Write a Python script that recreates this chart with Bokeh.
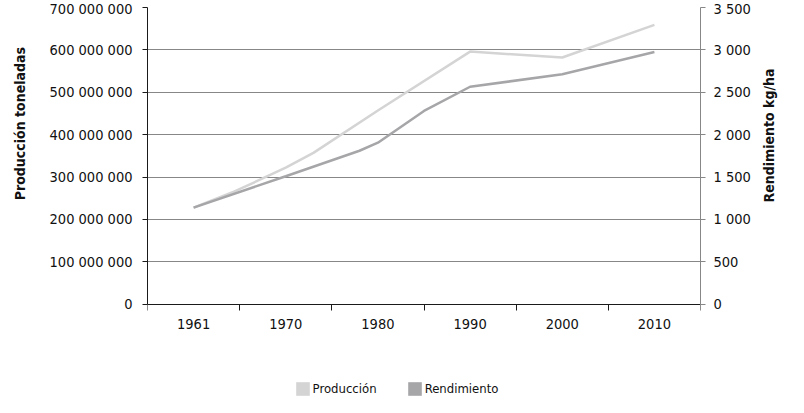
import math
import numpy as np
from bokeh.plotting import figure
from bokeh.models import (Range1d, LinearAxis, FixedTicker, Legend, LegendItem, Grid)
from bokeh.embed import file_html
from bokeh.resources import INLINE

# ---- data ----
categories = ["1961", "1970", "1980", "1990", "2000", "2010"]

prod_years = [1961, 1965, 1970, 1973, 1980, 1990, 2000, 2010]
prod_values = [228_000_000, 266_000_000, 322_000_000, 357_000_000, 457_000_000,
               596_000_000, 582_000_000, 659_000_000]

rend_years = [1961, 1970, 1978, 1980, 1985, 1990, 2000, 2010]
rend_values = [1140, 1510, 1810, 1905, 2280, 2565, 2712, 2975]

left_ticks = [0, 100_000_000, 200_000_000, 300_000_000, 400_000_000,
              500_000_000, 600_000_000, 700_000_000]
right_ticks = [0, 500, 1000, 1500, 2000, 2500, 3000, 3500]

series_names = ["Producción", "Rendimiento"]
series_colors = ["#d4d4d4", "#a6a6a9"]
left_title = "Producción toneladas"
right_title = "Rendimiento kg/ha"

# ---- geometry (figure pixels) ----
W, H = 788, 397
FRAME_TOP = 7          # top of the value area
ZERO_Y = 303.7         # where value 0 (the category axis) sits
FRAME_BOTTOM = H       # frame extends to the bottom so the legend is not clipped
below_frac = (FRAME_BOTTOM - ZERO_Y) / (ZERO_Y - FRAME_TOP)

# ---- helpers ----
cat_years = [int(c) for c in categories]
centers = [i + 0.5 for i in range(len(categories))]
bounds = list(range(len(categories) + 1))
NB = "\u00a0"


def pos(years):
    return np.interp(years, cat_years, centers)


def fmt(v):
    return f"{v:,}".replace(",", NB)


FONT = "'DejaVu Sans Condensed', 'Liberation Sans Narrow', sans-serif"

left_max = left_ticks[-1]
right_max = right_ticks[-1]

p = figure(width=W, height=H, output_backend="svg", toolbar_location=None,
           x_range=Range1d(0, len(categories)),
           y_range=Range1d(-left_max * below_frac, left_max),
           x_axis_location=None, y_axis_location=None,
           min_border_left=139, min_border_right=88, min_border_top=FRAME_TOP,
           min_border_bottom=0)
p.outline_line_color = None
p.center = [r for r in p.center if not isinstance(r, Grid)]
p.extra_y_ranges = {"rend": Range1d(-right_max * below_frac, right_max)}

grid = Grid(dimension=1, ticker=FixedTicker(ticks=left_ticks),
            grid_line_color="#878787", grid_line_width=1)
p.center.append(grid)

# x axis, drawn at value 0
xaxis = LinearAxis(ticker=FixedTicker(ticks=centers, minor_ticks=bounds),
                   major_label_overrides={c: lab for c, lab in zip(centers, categories)},
                   fixed_location=0)
xaxis.axis_line_color = "#1a1a1a"
xaxis.major_tick_out = 0
xaxis.major_tick_in = 0
xaxis.minor_tick_out = 6
xaxis.minor_tick_in = 0
xaxis.minor_tick_line_color = "#1a1a1a"
xaxis.major_label_standoff = 9
xaxis.major_label_text_font = FONT
xaxis.major_label_text_font_size = "14.5px"
xaxis.major_label_text_color = "#111111"
p.add_layout(xaxis, "below")

# left axis
laxis = LinearAxis(ticker=FixedTicker(ticks=left_ticks, minor_ticks=[]),
                   major_label_overrides={t: fmt(t) for t in left_ticks},
                   bounds=(0, left_max),
                   axis_label=left_title + NB * 9)
laxis.axis_label_orientation = math.pi / 2
laxis.axis_label_align = "end"
laxis.axis_line_color = "#1a1a1a"
laxis.major_tick_line_color = "#1a1a1a"
laxis.major_tick_out = 5
laxis.major_tick_in = 0
laxis.major_label_standoff = 10
laxis.major_label_text_font = FONT
laxis.major_label_text_font_size = "14.5px"
laxis.major_label_text_color = "#111111"
laxis.axis_label_text_font = FONT
laxis.axis_label_text_font_style = "bold"
laxis.axis_label_text_font_size = "14px"
laxis.axis_label_text_color = "#111111"
laxis.axis_label_standoff = 27
p.add_layout(laxis, "left")

# right axis
raxis = LinearAxis(y_range_name="rend",
                   ticker=FixedTicker(ticks=right_ticks, minor_ticks=[]),
                   major_label_overrides={t: fmt(t) for t in right_ticks},
                   bounds=(0, right_max),
                   axis_label=right_title)
raxis.axis_label_orientation = math.pi / 2
raxis.axis_label_align = "center"
raxis.axis_line_color = "#878787"
raxis.major_tick_line_color = "#878787"
raxis.major_tick_out = 5
raxis.major_tick_in = 0
raxis.major_label_standoff = 8
raxis.major_label_text_font = FONT
raxis.major_label_text_font_size = "14.5px"
raxis.major_label_text_color = "#111111"
raxis.axis_label_text_font = FONT
raxis.axis_label_text_font_style = "bold"
raxis.axis_label_text_font_size = "14px"
raxis.axis_label_text_color = "#111111"
raxis.axis_label_standoff = 15
p.add_layout(raxis, "right")

# lines
p.line(x=pos(prod_years), y=prod_values, line_color=series_colors[0], line_width=2.5)
p.line(x=pos(rend_years), y=rend_values, line_color=series_colors[1], line_width=2.5,
       y_range_name="rend")

# legend proxies (square swatches; one undefined point each so they draw nothing)
nan = float("nan")
proxies = [p.quad(left=[nan], right=[nan], top=[nan], bottom=[nan],
                  fill_color=c, line_color=None)
           for c in series_colors]
legend = Legend(items=[LegendItem(label=n, renderers=[r]) for n, r in zip(series_names, proxies)],
                location=(146.6, 0), orientation="horizontal",
                glyph_width=17, glyph_height=17, label_standoff=2, spacing=29,
                padding=0, margin=0, border_line_color=None, background_fill_alpha=0,
                label_text_font=FONT, label_text_font_size="13px",
                label_text_color="#111111", label_height=17)
p.add_layout(legend)

open("out.html", "w").write(file_html(p, INLINE))
